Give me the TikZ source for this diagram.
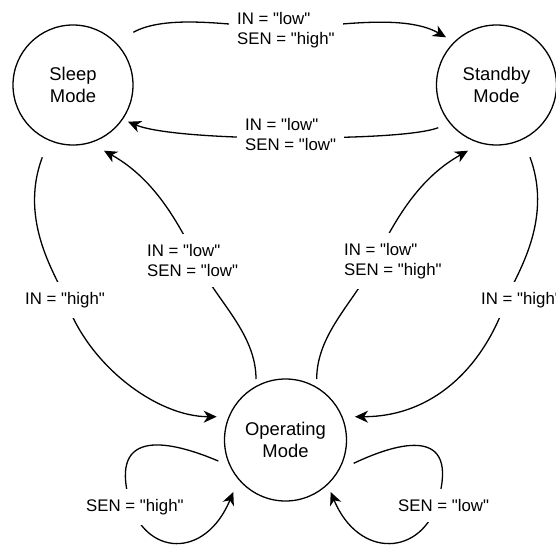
\documentclass[tikz,border=0pt]{standalone}
\usetikzlibrary{arrows.meta}
\font\statefont="Liberation Sans" at 18.4pt
\font\labelfont="Liberation Sans" at 16.8pt
\begin{document}
\begin{tikzpicture}[x=1pt,y=-1pt,
  state/.style={circle,draw,line width=1.3pt,minimum size=120pt,inner sep=0pt,align=center,font={\statefont\baselineskip=21.2pt}},
  edge/.style={line width=1.3pt,-{Stealth[length=13pt,width=12pt,inset=4pt]}},
  lbl/.style={fill=white,inner xsep=8pt,inner ysep=10pt,align=left,anchor=north west,font={\labelfont\baselineskip=20pt}}]
\useasboundingbox (0,0) rectangle (556,546);
% states
\node[state] (sleep) at (73,85) {Sleep\\Mode};
\node[state] (standby) at (496.5,85) {Standby\\Mode};
\node[state,minimum size=122pt] (op) at (285.5,440) {Operating\\Mode};
% edges
\draw[edge] ([shift={(60.3,-52.7)}]sleep.center) .. controls (170,12) and (245,28) .. (285,28) .. controls (325,28) and (402,12) .. ([shift={(-50.5,-47.7)}]standby.center);
\draw[edge] ([shift={(-58.2,42.7)}]standby.center) .. controls (413,137) and (330,138) .. (285,138) .. controls (240,138) and (160,135) .. ([shift={(55,36.7)}]sleep.center);
\draw[edge] ([shift={(-29.5,-61)}]op.center) .. controls (256,334.3) and (218,301.8) .. (200,266) .. controls (179.8,225.8) and (156.4,179.9) .. ([shift={(31,65.7)}]sleep.center);
\draw[edge] ([shift={(31.2,-61)}]op.center) .. controls (316.7,334.3) and (354,301.8) .. (372,266) .. controls (392.2,225.8) and (415.6,179.9) .. ([shift={(-28.5,65.7)}]standby.center);
\draw[edge] ([shift={(-30.7,72.3)}]sleep.center) .. controls (17.7,222.8) and (58.8,279) .. (65,298) .. controls (86.8,364.5) and (156.7,416.7) .. ([shift={(-68.8,-23.3)}]op.center);
\draw[edge] ([shift={(33.5,72.3)}]standby.center) .. controls (554.3,222.8) and (513.2,279) .. (507,298) .. controls (485.2,364.5) and (435,416.7) .. ([shift={(69.5,-23.3)}]op.center);
\draw[edge] ([shift={(-67.2,21)}]op.center) .. controls (172.3,441.5) and (108.4,426) .. (129.5,501) .. controls (145,556) and (205,560) .. ([shift={(-52.2,52)}]op.center);
\draw[edge] ([shift={(68.2,23.3)}]op.center) .. controls (399.7,441.5) and (459.6,426) .. (438,501) .. controls (422.5,556) and (359,560) .. ([shift={(45.2,52)}]op.center);
% labels
\node[lbl] (l1) at (229,2) {IN = "low"\\SEN = "high"};
\node[lbl] (l2) at (237,108) {IN = "low"\\SEN = "low"};
\node[lbl] (l3) at (139,234) {IN = "low"\\SEN = "low"};
\node[lbl] (l4) at (336,233) {IN = "low"\\SEN = "high"};
\node[lbl] (l5) at (17,282) {IN = "high"};
\node[lbl] (l6) at (473,282) {IN = "high"};
\node[lbl] (l7) at (78,489) {SEN = "high"};
\node[lbl] (l8) at (390,489) {SEN = "low"};
\end{tikzpicture}
\end{document}
